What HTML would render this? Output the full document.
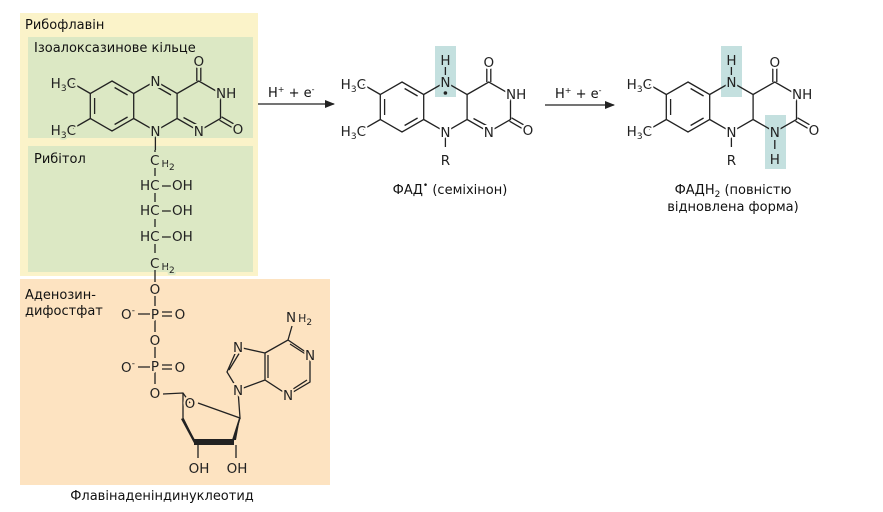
<!DOCTYPE html>
<html><head><meta charset="utf-8"><style>
html,body{margin:0;padding:0;background:#fff;width:883px;height:512px;overflow:hidden}
svg{display:block;font-family:"DejaVu Sans","Liberation Sans",sans-serif}
.b{stroke:#222;stroke-width:1.3;fill:none}
.t{font-size:13.5px;fill:#222;paint-order:stroke;stroke-width:4px;stroke-linejoin:round}
.l{font-size:13px;fill:#111}
</style></head><body>
<svg width="883" height="512" viewBox="0 0 883 512">
<defs><marker id="ar" markerWidth="10" markerHeight="8" refX="9" refY="4" orient="auto" markerUnits="userSpaceOnUse"><path d="M0,0 L10,4 L0,8 z" fill="#222"/></marker></defs>
<rect x="20" y="13" width="238" height="263" fill="#fbf3c9"/>
<rect x="28" y="37" width="225" height="101" fill="#dce8c4"/>
<rect x="28" y="146" width="225" height="126" fill="#dce8c4"/>
<rect x="20" y="279" width="310" height="206" fill="#fde3c1"/>
<text class="l" x="25" y="29">Рибофлавін</text>
<text class="l" x="34" y="52">Ізоалоксазинове кільце</text>
<text class="l" x="34" y="163">Рибітол</text>
<text class="l" x="25" y="299">Аденозин-</text>
<text class="l" x="25" y="315">дифостфат</text>
<text class="l" x="162" y="500" text-anchor="middle">Флавінаденіндинуклеотид</text>

<!-- LEFT oxidized -->
<g transform="translate(112,106)">
<path class="b" d="M0,-25 L21.7,-12.5 L21.7,12.5 L0,25 L-21.7,12.5 L-21.7,-12.5 Z M21.7,-12.5 L43.4,-25 L65.1,-12.5 L65.1,12.5 L43.4,25 L21.7,12.5 M65.1,-12.5 L86.8,-25 L108.5,-12.5 L108.5,12.5 L86.8,25 L65.1,12.5
M-17.4,-8 L-17.4,8 M2.6,-18.5 L15.6,-11 M15.6,11 L2.6,18.5 M46,-18.5 L59,-11 M71.5,11.5 L84.5,18.5
M-21.7,-12.5 L-39,-22.5 M-21.7,12.5 L-39,22.5
M84.8,-25 L84.8,-42 M88.8,-25 L88.8,-42 M107.5,14.2 L122,22.6 M109.5,10.8 L124,19.2 M43.4,25 L43.4,44"/>
<g class="t" stroke="#dce8c4">
<text x="-36" y="-18" text-anchor="end">H<tspan font-size="9" dy="3">3</tspan><tspan dy="-3">C</tspan></text>
<text x="-36" y="29" text-anchor="end">H<tspan font-size="9" dy="3">3</tspan><tspan dy="-3">C</tspan></text>
<text x="43.4" y="-20" text-anchor="middle">N</text>
<text x="43.4" y="30" text-anchor="middle">N</text>
<text x="86.8" y="30" text-anchor="middle">N</text>
<text x="104" y="-8">NH</text>
<text x="86.8" y="-40" text-anchor="middle">O</text>
<text x="126" y="28" text-anchor="middle">O</text>
</g></g>
<!-- ribitol chain -->
<path class="b" d="M155,150 V152 M155,168 V176 M155,193 V202 M155,219 V227 M155,244 V253 M162,186 H171 M162,211 H171 M162,237 H171"/>
<g class="t" stroke="#dce8c4">
<text x="150" y="165">C<tspan font-size="10" dx="2" dy="2">H</tspan><tspan font-size="9" dy="3">2</tspan></text>
<text x="140" y="190">HC</text><text x="172" y="190">OH</text>
<text x="140" y="215">HC</text><text x="172" y="215">OH</text>
<text x="140" y="241">HC</text><text x="172" y="241">OH</text>
<text x="150" y="268">C<tspan font-size="10" dx="2" dy="2">H</tspan><tspan font-size="9" dy="3">2</tspan></text>
</g>
<path class="b" d="M155,270 V282 M155,295 V306 M155,320 V332 M155,346 V358 M155,372 V384 M138,314 H150 M138,367 H150 M162,312 H172 M162,316 H172 M162,365 H172 M162,369 H172 M163,394 L183,393 L190,403 M183,393 L183,418 M198,403 L240,418 L238,390 M183,418 L195,442 M233,442 L240,418 M198,445 V458 M236,445 V458
M238,390 L227,372 L238,347 L265,353 L265,380 L238,390 M229,370 L240,352 M268,355 L268,378 M265,353 L288,340 L310,355 L310,382 L288,395 L265,380 M290,344 L307,355 M307,380 L290,391 M288,340 L292,326"/>
<polygon points="183,418 195,440 195,445 181,419" fill="#222"/>
<polygon points="194,439 234,439 234,445 194,445" fill="#222"/>
<polygon points="240,418 236,440 232,440 239,418" fill="#222"/>
<g class="t" stroke="#fde3c1">
<text x="155" y="294" text-anchor="middle">O</text>
<text x="155" y="319" text-anchor="middle">P</text>
<text x="155" y="345" text-anchor="middle">O</text>
<text x="155" y="371" text-anchor="middle">P</text>
<text x="155" y="398" text-anchor="middle">O</text>
<text x="128" y="319" text-anchor="middle">O<tspan font-size="9" dy="-6">-</tspan></text>
<text x="128" y="372" text-anchor="middle">O<tspan font-size="9" dy="-6">-</tspan></text>
<text x="180" y="319" text-anchor="middle">O</text>
<text x="180" y="372" text-anchor="middle">O</text>
<text x="190" y="408" text-anchor="middle">O</text>
<text x="199" y="473" text-anchor="middle">OH</text>
<text x="237" y="473" text-anchor="middle">OH</text>
<text x="238" y="395" text-anchor="middle">N</text>
<text x="238" y="352" text-anchor="middle">N</text>
<text x="310" y="360" text-anchor="middle">N</text>
<text x="288" y="400" text-anchor="middle">N</text>
<text x="286" y="322">N<tspan font-size="11" dx="2">H</tspan><tspan font-size="9" dy="3">2</tspan></text>
</g>

<!-- arrows -->
<path class="b" d="M258,104 H334" marker-end="url(#ar)"/>
<text class="l" x="268" y="97">H<tspan font-size="8" dy="-5">+</tspan><tspan dy="5"> + e</tspan><tspan font-size="8" dy="-5">-</tspan></text>
<path class="b" d="M545,105 H614" marker-end="url(#ar)"/>
<text class="l" x="555" y="98">H<tspan font-size="8" dy="-5">+</tspan><tspan dy="5"> + e</tspan><tspan font-size="8" dy="-5">-</tspan></text>

<!-- MIDDLE semiquinone -->
<g transform="translate(402,107)">
<rect x="33" y="-61" width="21" height="51" fill="#c4e0df"/>
<path class="b" d="M0,-25 L21.7,-12.5 L21.7,12.5 L0,25 L-21.7,12.5 L-21.7,-12.5 Z M21.7,-12.5 L43.4,-25 L65.1,-12.5 L65.1,12.5 L43.4,25 L21.7,12.5 M65.1,-12.5 L86.8,-25 L108.5,-12.5 L108.5,12.5 L86.8,25 L65.1,12.5
M-17.4,-8 L-17.4,8 M2.6,-18.5 L15.6,-11 M15.6,11 L2.6,18.5 M71.5,11.5 L84.5,18.5
M-21.7,-12.5 L-39,-22.5 M-21.7,12.5 L-39,22.5
M84.8,-25 L84.8,-42 M88.8,-25 L88.8,-42 M107.5,14.2 L122,22.6 M109.5,10.8 L124,19.2 M43.4,25 L43.4,40 M43.4,-40 L43.4,-32"/>
<circle cx="43.4" cy="-14" r="1.8" fill="#222"/>
<g class="t" stroke="#fff">
<text x="-36" y="-18" text-anchor="end">H<tspan font-size="9" dy="3">3</tspan><tspan dy="-3">C</tspan></text>
<text x="-36" y="29" text-anchor="end">H<tspan font-size="9" dy="3">3</tspan><tspan dy="-3">C</tspan></text>
<text x="43.4" y="-20" text-anchor="middle" stroke="#c4e0df">N</text>
<text x="43.4" y="-42" text-anchor="middle" stroke="#c4e0df">H</text>
<text x="43.4" y="30" text-anchor="middle">N</text>
<text x="43.4" y="58" text-anchor="middle">R</text>
<text x="86.8" y="30" text-anchor="middle">N</text>
<text x="104" y="-8">NH</text>
<text x="86.8" y="-40" text-anchor="middle">O</text>
<text x="126" y="28" text-anchor="middle">O</text>
</g></g>
<text class="l" x="450" y="194" text-anchor="middle">ФАД<tspan font-size="9" dy="-6">•</tspan><tspan dy="6"> (семіхінон)</tspan></text>

<!-- RIGHT reduced -->
<g transform="translate(688,107)">
<rect x="33" y="-61" width="21" height="51" fill="#c4e0df"/>
<rect x="77" y="8" width="21" height="54" fill="#c4e0df"/>
<path class="b" d="M0,-25 L21.7,-12.5 L21.7,12.5 L0,25 L-21.7,12.5 L-21.7,-12.5 Z M21.7,-12.5 L43.4,-25 L65.1,-12.5 L65.1,12.5 L43.4,25 L21.7,12.5 M65.1,-12.5 L86.8,-25 L108.5,-12.5 L108.5,12.5 L86.8,25 L65.1,12.5
M-17.4,-8 L-17.4,8 M2.6,-18.5 L15.6,-11 M15.6,11 L2.6,18.5
M-21.7,-12.5 L-39,-22.5 M-21.7,12.5 L-39,22.5
M84.8,-25 L84.8,-42 M88.8,-25 L88.8,-42 M107.5,14.2 L122,22.6 M109.5,10.8 L124,19.2 M43.4,25 L43.4,40 M43.4,-40 L43.4,-32 M86.8,33 L86.8,42"/>
<g class="t" stroke="#fff">
<text x="-36" y="-18" text-anchor="end">H<tspan font-size="9" dy="3">3</tspan><tspan dy="-3">C</tspan></text>
<text x="-36" y="29" text-anchor="end">H<tspan font-size="9" dy="3">3</tspan><tspan dy="-3">C</tspan></text>
<text x="43.4" y="-20" text-anchor="middle" stroke="#c4e0df">N</text>
<text x="43.4" y="-42" text-anchor="middle" stroke="#c4e0df">H</text>
<text x="43.4" y="30" text-anchor="middle">N</text>
<text x="43.4" y="58" text-anchor="middle">R</text>
<text x="86.8" y="30" text-anchor="middle" stroke="#c4e0df">N</text>
<text x="86.8" y="57" text-anchor="middle" stroke="#c4e0df">H</text>
<text x="104" y="-8">NH</text>
<text x="86.8" y="-40" text-anchor="middle">O</text>
<text x="126" y="28" text-anchor="middle">O</text>
</g></g>
<text class="l" x="733" y="194" text-anchor="middle">ФАДН<tspan font-size="9" dy="3">2</tspan><tspan dy="-3"> (повністю</tspan></text>
<text class="l" x="733" y="211" text-anchor="middle">відновлена форма)</text>
</svg>
</body></html>
